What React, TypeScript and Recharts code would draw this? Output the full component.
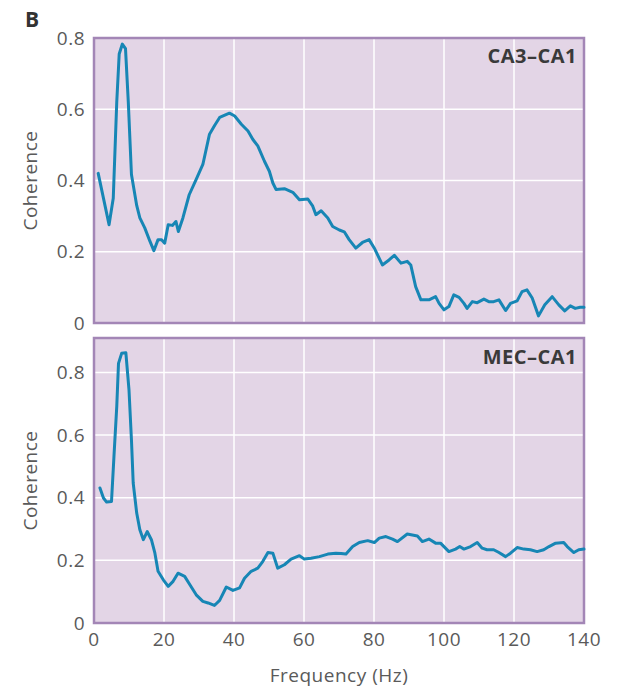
import { LineChart, Line, XAxis, YAxis, CartesianGrid, ReferenceArea } from "recharts";

// CA3–CA1 coherence
const topFreq = [
  1.2, 4.3, 5.5, 6.5, 7.2, 8.1, 9.0, 9.8, 10.7, 12.2, 13.1, 14.5, 16, 17.1, 18.3, 19.3, 20.2, 21.2, 22.4, 23.4,
  24.1, 25.4, 27.2, 29.2, 31.1, 33, 34.5, 35.9, 38.7, 40.2, 42.1, 44, 45.4, 46.8, 48.7, 50.1, 51.1, 52, 54.4, 56.8,
  58.7, 61.1, 62.5, 63.4, 64.9, 66.8, 68.2, 70.1, 71.5, 72.9, 74.8, 76.7, 78.6, 80.1, 82.4, 84.3, 85.8, 87.7, 89.5, 90.5,
  91.9, 93.4, 95.7, 97.6, 98.6, 100, 101.4, 102.8, 104.3, 105.7, 106.6, 108.1, 109.5, 111.4, 112.8, 114.2, 115.7, 117.6, 119, 120.9,
  122.3, 123.7, 125.2, 127, 128.8, 130.9, 132.8, 134.5, 136.1, 137.5, 138.9, 140,
];
const topCoh = [
  0.42, 0.276, 0.35, 0.62, 0.755, 0.783, 0.77, 0.62, 0.417, 0.33, 0.295, 0.267, 0.229, 0.203, 0.234, 0.234, 0.224, 0.276, 0.274, 0.285,
  0.257, 0.295, 0.36, 0.403, 0.445, 0.53, 0.555, 0.577, 0.589, 0.581, 0.558, 0.539, 0.515, 0.497, 0.454, 0.426, 0.393, 0.375, 0.377, 0.367,
  0.346, 0.348, 0.328, 0.304, 0.315, 0.295, 0.271, 0.261, 0.256, 0.234, 0.21, 0.226, 0.234, 0.21, 0.163, 0.177, 0.19, 0.168, 0.173, 0.163,
  0.102, 0.065, 0.065, 0.074, 0.055, 0.037, 0.046, 0.079, 0.072, 0.055, 0.041, 0.06, 0.057, 0.067, 0.06, 0.06, 0.065, 0.035, 0.055, 0.062,
  0.088, 0.093, 0.07, 0.02, 0.051, 0.074, 0.051, 0.034, 0.048, 0.041, 0.044, 0.044,
];

// MEC–CA1 coherence (bottom panel)
const botFreq = [
  1.7, 2.7, 3.6, 5, 5.7, 6.5, 7, 7.9, 9.1, 10, 10.7, 11.2, 12.2, 13.1, 14.1, 15.2, 16.4, 17.4, 18.3, 19.8,
  21.2, 22.6, 24, 25.9, 27.4, 29.2, 31.1, 32.6, 34.4, 35.9, 37.8, 39.7, 41.6, 43, 44.9, 46.8, 48.2, 49.7, 51.1, 52.5,
  54.4, 56.3, 58.7, 60.1, 62, 64.4, 66.8, 69.1, 70.6, 72, 73.9, 75.8, 78.2, 80.1, 81.5, 83.4, 85.3, 86.7, 89.5, 92.4,
  93.8, 95.7, 97.6, 99, 101.4, 103.3, 104.5, 105.7, 107.6, 109.5, 110.9, 112.3, 114.2, 115.7, 117.6, 119, 120.9, 122.8, 124.7, 126.6,
  128.5, 130, 131.9, 134.2, 135.2, 137.1, 138.5, 140,
];
const botCoh = [
  0.431, 0.399, 0.386, 0.388, 0.531, 0.691, 0.829, 0.861, 0.863, 0.744, 0.585, 0.447, 0.351, 0.298, 0.266, 0.292, 0.266, 0.223, 0.165, 0.138,
  0.117, 0.133, 0.159, 0.149, 0.122, 0.09, 0.069, 0.064, 0.056, 0.072, 0.115, 0.104, 0.112, 0.143, 0.165, 0.175, 0.196, 0.225, 0.223, 0.175,
  0.186, 0.204, 0.215, 0.204, 0.207, 0.212, 0.22, 0.223, 0.222, 0.22, 0.244, 0.257, 0.263, 0.257, 0.271, 0.276, 0.268, 0.26, 0.284, 0.278,
  0.26, 0.268, 0.255, 0.255, 0.228, 0.236, 0.244, 0.236, 0.244, 0.257, 0.239, 0.234, 0.234, 0.225, 0.212, 0.223, 0.241, 0.236, 0.234, 0.228,
  0.234, 0.244, 0.255, 0.257, 0.244, 0.225, 0.234, 0.236,
];

const xTicks = [0, 20, 40, 60, 80, 100, 120, 140];
const yTicks = [0, 0.2, 0.4, 0.6, 0.8];

const FONT = "'Open Sans', sans-serif";
const TICK = { fill: "#5a5a5a", fontSize: 19, fontFamily: FONT, letterSpacing: 0.5 };
const BG = "#e3d5e6";
const BORDER = "#a386b6";
const LINE = "#1786b5";

const fmt = (v: number) => (v === 0 ? "0" : String(v));

function CohLabel({ viewBox }: any) {
  const cx = viewBox.x - 4;
  const cy = viewBox.y + viewBox.height / 2;
  return (
    <text
      transform={`translate(${cx},${cy}) rotate(-90)`}
      textAnchor="middle"
      dominantBaseline="central"
      fill="#5a5a5a"
      fontSize={19}
      letterSpacing={0.5}
      fontFamily={FONT}
    >
      Coherence
    </text>
  );
}

function FreqLabel({ viewBox }: any) {
  return (
    <text
      x={viewBox.x + viewBox.width / 2}
      y={viewBox.y + 52}
      textAnchor="middle"
      dominantBaseline="central"
      fill="#5a5a5a"
      fontSize={19}
      letterSpacing={0.5}
      fontFamily={FONT}
    >
      Frequency (Hz)
    </text>
  );
}

function Panel({ data, yMax, top, height, margin, showX, title, titleTop }: any) {
  return (
    <div style={{ position: "absolute", left: 0, top, width: 617, height }}>
      <LineChart width={617} height={height} data={data} margin={margin}>
        <CartesianGrid stroke="#ffffff" strokeWidth={1.5} fill={BG} fillOpacity={1} />
        <XAxis
          dataKey="f"
          type="number"
          domain={[0, 140]}
          ticks={xTicks}
          hide={!showX}
          height={showX ? 64 : 0}
          axisLine={false}
          tickLine={false}
          tickSize={0}
          tickMargin={10}
          tick={TICK}
          interval={0}
          label={showX ? <FreqLabel /> : undefined}
        />
        <YAxis
          type="number"
          domain={[0, yMax]}
          ticks={yTicks}
          width={60}
          axisLine={false}
          tickLine={false}
          tickSize={0}
          tickMargin={9}
          tick={TICK}
          tickFormatter={fmt}
          interval={0}
          label={<CohLabel />}
        />
        <Line
          type="linear"
          dataKey="c"
          stroke={LINE}
          strokeWidth={3}
          strokeLinejoin="round"
          strokeLinecap="round"
          dot={false}
          isAnimationActive={false}
        />
        <ReferenceArea x1={0} x2={140} y1={0} y2={yMax} fill="none" stroke={BORDER} strokeWidth={2.5} ifOverflow="visible" />
      </LineChart>
      <div
        style={{
          position: "absolute",
          right: 40,
          top: titleTop,
          fontFamily: FONT,
          fontWeight: 700,
          fontSize: 20,
          letterSpacing: 0.5,
          lineHeight: "20px",
          color: "#3a3a3a",
        }}
      >
        {title}
      </div>
    </div>
  );
}

export default function App() {
  const topData = topFreq.map((f, i) => ({ f, c: topCoh[i] }));
  const botData = botFreq.map((f, i) => ({ f, c: botCoh[i] }));
  return (
    <div style={{ position: "absolute", left: 0, top: 0, width: 617, height: 687, background: "#fff", fontFamily: FONT }}>
      <div style={{ position: "absolute", left: 25, top: 5, fontWeight: 700, fontSize: 21, color: "#333" }}>B</div>
      <Panel
        data={topData}
        yMax={0.8}
        top={0}
        height={335}
        margin={{ top: 38, right: 33, bottom: 12, left: 34 }}
        showX={false}
        title="CA3–CA1"
        titleTop={46}
      />
      <Panel
        data={botData}
        yMax={0.91}
        top={335}
        height={352}
        margin={{ top: 3, right: 33, bottom: 0, left: 34 }}
        showX={true}
        title="MEC–CA1"
        titleTop={12}
      />
    </div>
  );
}
